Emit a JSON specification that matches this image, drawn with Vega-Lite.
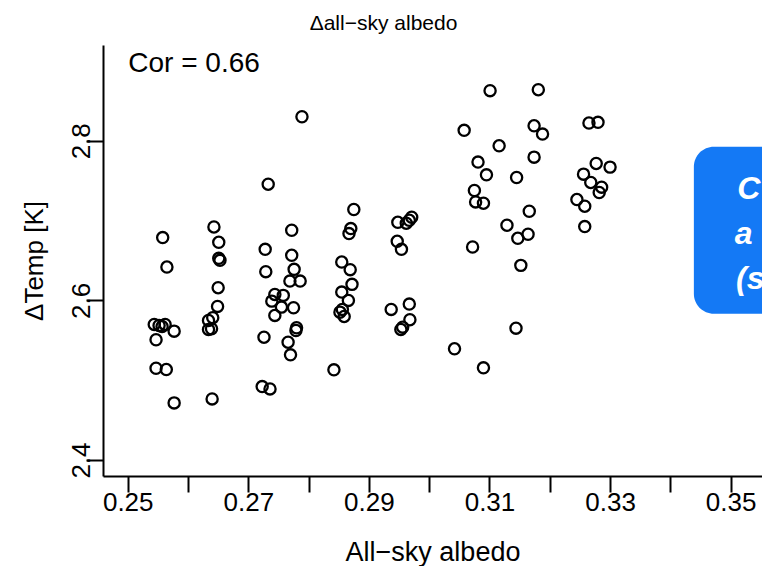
{
  "$schema": "https://vega.github.io/schema/vega-lite/v6.json",
  "autosize": {"type": "none"},
  "padding": {"left": 103, "top": 45, "right": 0, "bottom": 90},
  "width": 659,
  "height": 431,
  "background": "white",
  "config": {
    "view": {"stroke": null},
    "font": "Liberation Sans",
    "axis": {"grid": false, "domainColor": "black", "tickColor": "black", "labelColor": "black", "titleColor": "black", "domainWidth": 2, "tickWidth": 2, "labelFont": "Liberation Sans", "titleFont": "Liberation Sans", "titleFontWeight": "normal"}
  },
  "title": {"text": "Δall−sky albedo", "fontSize": 21, "fontWeight": "normal", "color": "black", "font": "Liberation Sans", "anchor": "middle", "frame": "group", "dx": -49, "baseline": "alphabetic", "offset": -6},
  "datasets": {
    "pts": [
      {"a": 0.2558, "t": 2.6787}, {"a": 0.2565, "t": 2.6418}, {"a": 0.2544, "t": 2.5699}, {"a": 0.2552, "t": 2.5686},
      {"a": 0.2557, "t": 2.5674}, {"a": 0.2562, "t": 2.5699}, {"a": 0.2577, "t": 2.5615}, {"a": 0.2547, "t": 2.5507},
      {"a": 0.2547, "t": 2.5150}, {"a": 0.2564, "t": 2.5134}, {"a": 0.2577, "t": 2.4716},
      {"a": 0.2643, "t": 2.6920}, {"a": 0.2651, "t": 2.6728}, {"a": 0.2651, "t": 2.6527}, {"a": 0.2653, "t": 2.6502},
      {"a": 0.2650, "t": 2.6159}, {"a": 0.2649, "t": 2.5925}, {"a": 0.2634, "t": 2.5749}, {"a": 0.2641, "t": 2.5783},
      {"a": 0.2634, "t": 2.5636}, {"a": 0.2639, "t": 2.5645}, {"a": 0.2640, "t": 2.4766},
      {"a": 0.2733, "t": 2.7456}, {"a": 0.2789, "t": 2.8301}, {"a": 0.2728, "t": 2.6640}, {"a": 0.2772, "t": 2.6879},
      {"a": 0.2772, "t": 2.6565}, {"a": 0.2729, "t": 2.6360}, {"a": 0.2776, "t": 2.6389}, {"a": 0.2769, "t": 2.6242},
      {"a": 0.2786, "t": 2.6242}, {"a": 0.2744, "t": 2.6075}, {"a": 0.2758, "t": 2.6063}, {"a": 0.2739, "t": 2.5991},
      {"a": 0.2755, "t": 2.5916}, {"a": 0.2775, "t": 2.5908}, {"a": 0.2744, "t": 2.5812}, {"a": 0.2780, "t": 2.5657},
      {"a": 0.2779, "t": 2.5623}, {"a": 0.2726, "t": 2.5539}, {"a": 0.2766, "t": 2.5476}, {"a": 0.2770, "t": 2.5318},
      {"a": 0.2723, "t": 2.4920}, {"a": 0.2736, "t": 2.4891},
      {"a": 0.2875, "t": 2.7139}, {"a": 0.2870, "t": 2.6900}, {"a": 0.2867, "t": 2.6837}, {"a": 0.2855, "t": 2.6481},
      {"a": 0.2869, "t": 2.6385}, {"a": 0.2872, "t": 2.6201}, {"a": 0.2855, "t": 2.6104}, {"a": 0.2866, "t": 2.6000},
      {"a": 0.2856, "t": 2.5887}, {"a": 0.2852, "t": 2.5853}, {"a": 0.2859, "t": 2.5799}, {"a": 0.2842, "t": 2.5130},
      {"a": 0.2948, "t": 2.6979}, {"a": 0.2962, "t": 2.6967}, {"a": 0.2967, "t": 2.7004}, {"a": 0.2971, "t": 2.7042},
      {"a": 0.2947, "t": 2.6741}, {"a": 0.2954, "t": 2.6640}, {"a": 0.2937, "t": 2.5887}, {"a": 0.2967, "t": 2.5954},
      {"a": 0.2968, "t": 2.5758}, {"a": 0.2953, "t": 2.5636}, {"a": 0.2956, "t": 2.5665},
      {"a": 0.3101, "t": 2.8628}, {"a": 0.3181, "t": 2.8640}, {"a": 0.3058, "t": 2.8131}, {"a": 0.3174, "t": 2.8188},
      {"a": 0.3188, "t": 2.8084}, {"a": 0.3116, "t": 2.7937}, {"a": 0.3174, "t": 2.7795}, {"a": 0.3081, "t": 2.7733},
      {"a": 0.3095, "t": 2.7573}, {"a": 0.3145, "t": 2.7540}, {"a": 0.3075, "t": 2.7377}, {"a": 0.3077, "t": 2.7234},
      {"a": 0.3090, "t": 2.7218}, {"a": 0.3166, "t": 2.7117}, {"a": 0.3129, "t": 2.6942}, {"a": 0.3147, "t": 2.6778},
      {"a": 0.3164, "t": 2.6829}, {"a": 0.3072, "t": 2.6669}, {"a": 0.3152, "t": 2.6439}, {"a": 0.3144, "t": 2.5652},
      {"a": 0.3042, "t": 2.5394}, {"a": 0.3090, "t": 2.5155},
      {"a": 0.3265, "t": 2.8222}, {"a": 0.3280, "t": 2.8231}, {"a": 0.3277, "t": 2.7716}, {"a": 0.3300, "t": 2.7670},
      {"a": 0.3256, "t": 2.7582}, {"a": 0.3268, "t": 2.7478}, {"a": 0.3286, "t": 2.7419}, {"a": 0.3282, "t": 2.7352},
      {"a": 0.3245, "t": 2.7264}, {"a": 0.3258, "t": 2.7180}, {"a": 0.3258, "t": 2.6925}
    ],
    "box": [{"x": 0.3439, "x2": 0.3700, "y": 2.5833, "y2": 2.7925}],
    "boxtext": [
      {"label": "C", "x": 0.3511, "y": 2.7268},
      {"label": "a", "x": 0.3507, "y": 2.6704},
      {"label": "(s", "x": 0.3509, "y": 2.6138}
    ],
    "cor": [{"label": "Cor = 0.66", "x": 0.2501, "y": 2.8859}]
  },
  "layer": [
    {
      "data": {"name": "pts"},
      "mark": {"type": "point", "shape": "circle", "filled": false, "color": "black", "size": 125, "strokeWidth": 2.3, "opacity": 1},
      "encoding": {
        "x": {"field": "a", "type": "quantitative",
          "scale": {"domain": [0.2459, 0.3552], "nice": false, "zero": false},
          "axis": {"title": "All−sky albedo", "values": [0.25, 0.26, 0.27, 0.28, 0.29, 0.30, 0.31, 0.32, 0.33, 0.34, 0.35],
            "labelExpr": "round(datum.value * 100) % 2 == 1 ? format(datum.value, '.2f') : ''",
            "tickSize": 16, "labelPadding": 18, "labelBaseline": "alphabetic", "labelFontSize": 26, "labelFlush": false, "labelOverlap": false, "labelBound": false,
            "titleFontSize": 27, "titleBaseline": "alphabetic", "titleY": 84}
        },
        "y": {"field": "t", "type": "quantitative",
          "scale": {"domain": [2.38, 2.92], "nice": false, "zero": false},
          "axis": {"title": "ΔTemp [K]", "values": [2.4, 2.6, 2.8], "format": ".1f",
            "tickSize": 17, "labelPadding": -3, "labelAngle": 270, "labelAlign": "center", "labelBaseline": "alphabetic", "labelFontSize": 26, "labelFlush": false, "labelOverlap": false,
            "titleFontSize": 26, "titleBaseline": "alphabetic", "titleX": -61, "titleAngle": 270}
        }
      }
    },
    {
      "data": {"name": "cor"},
      "mark": {"type": "text", "align": "left", "baseline": "alphabetic", "fontSize": 28, "color": "black", "font": "Liberation Sans"},
      "encoding": {
        "x": {"field": "x", "type": "quantitative"},
        "y": {"field": "y", "type": "quantitative"},
        "text": {"field": "label"}
      }
    },
    {
      "data": {"name": "box"},
      "mark": {"type": "rect", "color": "#1479F5", "cornerRadius": 20, "opacity": 1},
      "encoding": {
        "x": {"field": "x", "type": "quantitative"},
        "x2": {"field": "x2"},
        "y": {"field": "y", "type": "quantitative"},
        "y2": {"field": "y2"}
      }
    },
    {
      "data": {"name": "boxtext"},
      "mark": {"type": "text", "align": "left", "baseline": "alphabetic", "fontSize": 32, "fontWeight": "bold", "fontStyle": "italic", "color": "white", "font": "Liberation Sans"},
      "encoding": {
        "x": {"field": "x", "type": "quantitative"},
        "y": {"field": "y", "type": "quantitative"},
        "text": {"field": "label"}
      }
    }
  ]
}
